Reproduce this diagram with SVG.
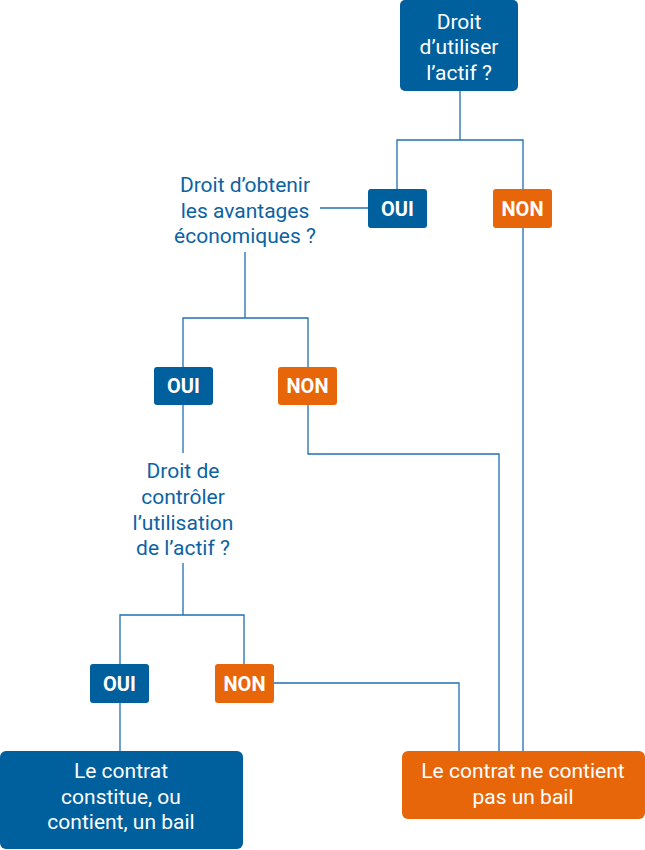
<svg xmlns="http://www.w3.org/2000/svg" width="645" height="850" viewBox="0 0 645 850">
<style>
.blue{fill:#00609e}
.orange{fill:#e8660a}
.wt{fill:#ffffff;font-family:Roboto,"Liberation Sans",sans-serif;font-size:21px;text-anchor:middle}
.bt{fill:#ffffff;font-family:Roboto,"Liberation Sans",sans-serif;font-size:20px;font-weight:bold;text-anchor:middle}
.qt{fill:#0b63a3;font-family:Roboto,"Liberation Sans",sans-serif;font-size:21px;text-anchor:middle}
.ln{fill:none;stroke:#1f6fb0;stroke-width:1.3}
</style>
<g id="connectors">
<path class="ln" d="M460 91 V140 M397 189 V140 H523 V751"/>
<path class="ln" d="M368 208 H320"/>
<path class="ln" d="M245 252 V318 M183 367 V318 H308 V367"/>
<path class="ln" d="M308 405 V454 H499 V751"/>
<path class="ln" d="M183 405 V453"/>
<path class="ln" d="M183 563 V615 M120 664 V615 H244 V664"/>
<path class="ln" d="M274 683 H459 V751"/>
<path class="ln" d="M120 703 V752"/>
</g>
<g id="q1">
<rect class="blue" x="400" y="0" width="118" height="91" rx="5"/>
<text class="wt" x="459" y="29">Droit</text>
<text class="wt" x="459" y="54">d’utiliser</text>
<text class="wt" x="459" y="80">l’actif ?</text>
</g>
<g id="oui1">
<rect class="blue" x="368" y="189" width="59" height="39" rx="3"/>
<text class="bt" x="397.5" y="216">OUI</text>
</g>
<g id="non1">
<rect class="orange" x="493" y="189" width="59" height="39" rx="3"/>
<text class="bt" x="522.5" y="216">NON</text>
</g>
<g id="q2">
<text class="qt" x="245" y="192">Droit d’obtenir</text>
<text class="qt" x="245" y="218">les avantages</text>
<text class="qt" x="245" y="243">économiques ?</text>
</g>
<g id="oui2">
<rect class="blue" x="154" y="367" width="59" height="38" rx="3"/>
<text class="bt" x="183.5" y="393">OUI</text>
</g>
<g id="non2">
<rect class="orange" x="278" y="367" width="59" height="38" rx="3"/>
<text class="bt" x="307.5" y="393">NON</text>
</g>
<g id="q3">
<text class="qt" x="183" y="478">Droit de</text>
<text class="qt" x="183" y="504">contrôler</text>
<text class="qt" x="183" y="530">l’utilisation</text>
<text class="qt" x="183" y="555">de l’actif ?</text>
</g>
<g id="oui3">
<rect class="blue" x="90" y="664" width="59" height="39" rx="3"/>
<text class="bt" x="119.5" y="691">OUI</text>
</g>
<g id="non3">
<rect class="orange" x="215" y="664" width="59" height="39" rx="3"/>
<text class="bt" x="244.5" y="691">NON</text>
</g>
<g id="bail">
<rect class="blue" x="0" y="751" width="243" height="98" rx="6"/>
<text class="wt" x="121" y="778">Le contrat</text>
<text class="wt" x="121" y="804">constitue, ou</text>
<text class="wt" x="121" y="829">contient, un bail</text>
</g>
<g id="nobail">
<rect class="orange" x="402" y="751" width="243" height="68" rx="6"/>
<text class="wt" x="523" y="778">Le contrat ne contient</text>
<text class="wt" x="523" y="804">pas un bail</text>
</g>
</svg>
